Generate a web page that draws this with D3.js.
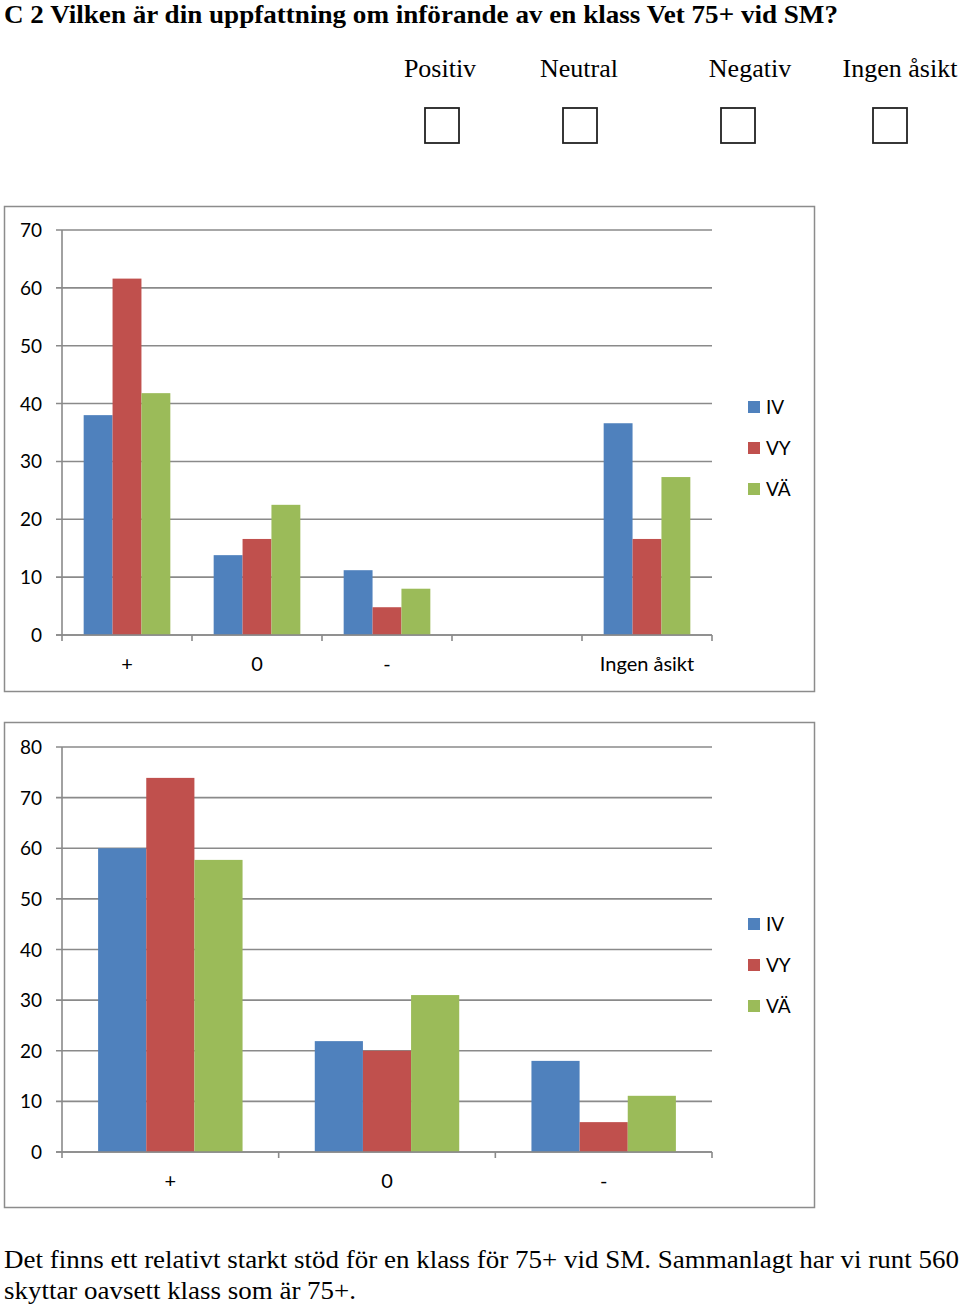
<!DOCTYPE html>
<html><head><meta charset="utf-8">
<script src="https://cdn.jsdelivr.net/npm/d3@7"></script>
<style>body{margin:0;background:#fff}svg{display:block}</style>
</head><body>
<svg id="c" width="960" height="1306"></svg>
<script>
const titleText = "C 2 Vilken är din uppfattning om införande av en klass Vet 75+ vid SM?";
const optionLabels = ["Positiv", "Neutral", "Negativ", "Ingen åsikt"];
const seriesNames = ["IV", "VY", "VÄ"];
const seriesColors = ["#4F81BD", "#C0504D", "#9BBB59"];

const cats1 = ["+", "0", "-", "", "Ingen åsikt"];
const iv1 = [38, 13.8, 11.2, null, 36.6];
const vy1 = [61.6, 16.6, 4.8, null, 16.6];
const va1 = [41.8, 22.5, 8, null, 27.3];
const ticks1 = [0, 10, 20, 30, 40, 50, 60, 70];

const cats2 = ["+", "0", "-"];
const iv2 = [60, 21.9, 18];
const vy2 = [73.9, 20, 5.9];
const va2 = [57.7, 31, 11.1];
const ticks2 = [0, 10, 20, 30, 40, 50, 60, 70, 80];

const bottomLines = ["Det finns ett relativt starkt stöd för en klass för 75+ vid SM. Sammanlagt har vi runt 560",
                     "skyttar oavsett klass som är 75+."];

const svg = d3.select("#c");
const serif = "'Liberation Serif','Times New Roman',serif";
const sans = "Lato,'Open Sans',sans-serif";

svg.append("text").attr("x", 4).attr("y", 22.5).attr("font-family", serif).attr("font-weight", "bold")
  .attr("font-size", 25.5).attr("fill", "#000")
  .attr("textLength", 834).attr("lengthAdjust", "spacingAndGlyphs").text(titleText);

const optX = [440, 579, 750, 900];
const checkX = [442, 580, 738, 890];
optionLabels.forEach((l, i) => {
  svg.append("text").attr("x", optX[i]).attr("y", 77).attr("text-anchor", "middle")
    .attr("font-family", serif).attr("font-size", 26).attr("fill", "#000").text(l);
  svg.append("rect").attr("x", checkX[i] - 17).attr("y", 108).attr("width", 34).attr("height", 35)
    .attr("fill", "none").attr("stroke", "#222").attr("stroke-width", 1.8);
});

function chart(o) {
  const g = svg.append("g");
  g.append("rect").attr("x", 4.5).attr("y", o.frameTop + 0.5).attr("width", 810).attr("height", 485)
    .attr("fill", "#fff").attr("stroke", "#8c8c8c").attr("stroke-width", 1.5);
  const x = d3.scaleBand().domain(o.cats.map((c, i) => i)).range([62, 712]).paddingInner(0).paddingOuter(0);
  const y = d3.scaleLinear().domain([0, o.max]).range([o.y0, o.yTop]);
  g.selectAll(".grid").data(o.ticks).join("line")
    .attr("x1", 56).attr("x2", 712).attr("y1", d => y(d)).attr("y2", d => y(d))
    .attr("stroke", "#8a8a8a").attr("stroke-width", 1.6);
  g.append("line").attr("x1", 62).attr("x2", 62).attr("y1", y(o.max)).attr("y2", y(0))
    .attr("stroke", "#8a8a8a").attr("stroke-width", 1.6);
  g.selectAll(".yl").data(o.ticks).join("text")
    .attr("x", 42).attr("y", d => y(d) + 7).attr("text-anchor", "end")
    .attr("font-family", sans).attr("font-size", 19).attr("fill", "#000").text(d => d);
  const bounds = d3.range(o.cats.length + 1).map(i => 62 + i * x.bandwidth());
  g.selectAll(".xt").data(bounds).join("line")
    .attr("x1", d => d).attr("x2", d => d).attr("y1", y(0)).attr("y2", y(0) + 6)
    .attr("stroke", "#8a8a8a").attr("stroke-width", 1.6);
  g.selectAll(".xl").data(o.cats).join("text")
    .attr("x", (d, i) => x(i) + x.bandwidth() / 2).attr("y", y(0) + 36).attr("text-anchor", "middle")
    .attr("font-family", sans).attr("font-size", 20).attr("fill", "#000").text(d => d);
  const bw = x.bandwidth() / 4.5;
  const series = [o.iv, o.vy, o.va];
  series.forEach((vals, s) => {
    g.selectAll(".b" + s).data(vals.map((v, i) => ({v, i})).filter(d => d.v != null)).join("rect")
      .attr("x", d => x(d.i) + bw * 0.75 + s * bw).attr("width", bw)
      .attr("y", d => y(d.v)).attr("height", d => y(0) - y(d.v))
      .attr("fill", seriesColors[s]);
  });
  g.append("line").attr("x1", 56).attr("x2", 712).attr("y1", y(0)).attr("y2", y(0))
    .attr("stroke", "#8a8a8a").attr("stroke-width", 1.6);
  seriesNames.forEach((n, i) => {
    const ly = o.legY + i * 41;
    g.append("rect").attr("x", 748).attr("y", ly - 6).attr("width", 12).attr("height", 12).attr("fill", seriesColors[i]);
    g.append("text").attr("x", 766).attr("y", ly + 7).attr("font-family", sans).attr("font-size", 19)
      .attr("fill", "#000").text(n);
  });
}

chart({frameTop: 206, cats: cats1, iv: iv1, vy: vy1, va: va1, ticks: ticks1, max: 70, y0: 635, yTop: 230, legY: 407});
chart({frameTop: 722, cats: cats2, iv: iv2, vy: vy2, va: va2, ticks: ticks2, max: 80, y0: 1152, yTop: 747, legY: 924});

const bottomLens = [955, 352];
bottomLines.forEach((l, i) => {
  svg.append("text").attr("x", 4).attr("y", 1268 + i * 31).attr("font-family", serif).attr("font-size", 26)
    .attr("fill", "#000").attr("textLength", bottomLens[i]).attr("lengthAdjust", "spacingAndGlyphs").text(l);
});
</script>
</body></html>
